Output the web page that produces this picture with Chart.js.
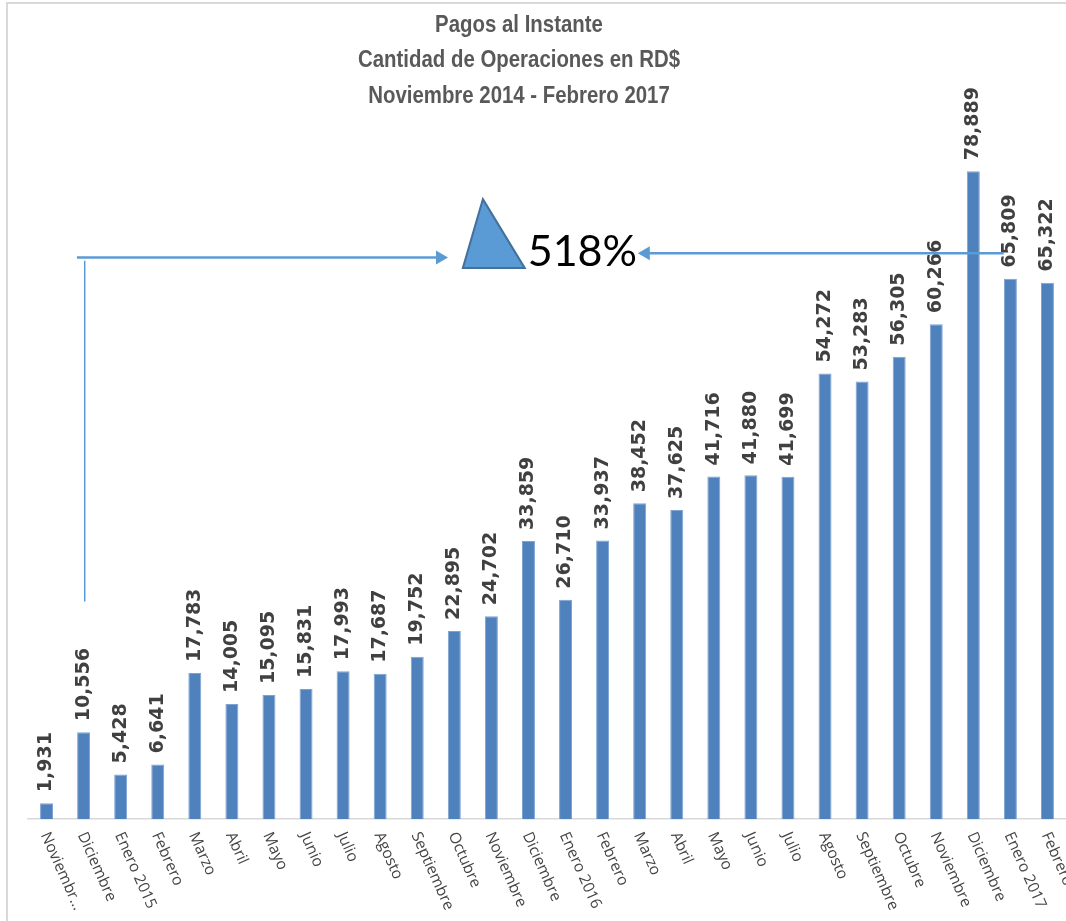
<!DOCTYPE html>
<html>
<head>
<meta charset="utf-8">
<script src="https://cdn.jsdelivr.net/npm/chart.js@4/dist/chart.umd.min.js"></script>
<style>
    html, body { margin: 0; padding: 0; background: #fff; }
    #wrap { width: 1066px; height: 921px; position: relative; }
</style>
</head>
<body>
<div id="wrap"><canvas id="pagosChart"></canvas></div>
<script>
// DATA ---------------------------------------------------------------------------
const months = ["Noviembr...", "Diciembre", "Enero 2015", "Febrero", "Marzo", "Abril", "Mayo", "Junio",
    "Julio", "Agosto", "Septiembre", "Octubre", "Noviembre", "Diciembre", "Enero 2016", "Febrero",
    "Marzo", "Abril", "Mayo", "Junio", "Julio", "Agosto", "Septiembre", "Octubre", "Noviembre",
    "Diciembre", "Enero 2017", "Febrero"];
const operaciones = [1931, 10556, 5428, 6641, 17783, 14005, 15095, 15831, 17993, 17687, 19752,
    22895, 24702, 33859, 26710, 33937, 38452, 37625, 41716, 41880, 41699, 54272, 53283, 56305,
    60266, 78889, 65809, 65322];
const titleLines = ["Pagos al Instante", "Cantidad de Operaciones en RD$", "Noviembre 2014 - Febrero 2017"];
const growthLabel = "518%";

const barColor = '#4F81BD';
const arrowColor = '#5B9BD5';

// FRAME + TITLE (narrow bold, like Arial Narrow) ---------------------------------
const framePlugin = {
    id: 'frame',
    beforeDraw(chart) {
        const ctx = chart.ctx;
        ctx.save();
        ctx.fillStyle = '#fff';
        ctx.fillRect(0, 0, chart.width, chart.height);
        ctx.strokeStyle = '#D9D9D9';
        ctx.lineWidth = 2;
        ctx.beginPath();
        ctx.moveTo(7, chart.height);
        ctx.lineTo(7, 3);
        ctx.lineTo(chart.width, 3);
        ctx.stroke();

        ctx.fillStyle = '#595959';
        ctx.font = 'bold 24px "Liberation Sans"';
        ctx.textAlign = 'center';
        ctx.textBaseline = 'middle';
        const cx = 519;
        titleLines.forEach((t, i) => {
            ctx.save();
            ctx.translate(cx, 25 + i * 35.5);
            ctx.scale(0.85, 1);
            ctx.fillText(t, 0, 0);
            ctx.restore();
        });
        ctx.restore();
    }
};

// VALUE LABELS + MONTH LABELS ----------------------------------------------------
const labelsPlugin = {
    id: 'barLabels',
    afterDatasetsDraw(chart) {
        const ctx = chart.ctx;
        const meta = chart.getDatasetMeta(0);
        const xScale = chart.scales.x;
        ctx.save();
        // values, rotated
        ctx.fillStyle = '#404040';
        ctx.font = 'bold 19px "DejaVu Sans"';
        ctx.textAlign = 'left';
        ctx.textBaseline = 'middle';
        meta.data.forEach((bar, i) => {
            ctx.save();
            ctx.translate(bar.x, bar.y - 11);
            ctx.rotate(-Math.PI / 2);
            ctx.fillText(operaciones[i].toLocaleString('en-US'), 0, 0);
            ctx.restore();
        });
        // months, slanted downwards
        ctx.fillStyle = '#454545';
        ctx.font = '15.5px "Open Sans"';
        months.forEach((m, i) => {
            ctx.save();
            ctx.translate(xScale.getPixelForValue(i) - 2, xScale.top + 14);
            ctx.rotate(66 * Math.PI / 180);
            ctx.fillText(m, 0, 0);
            ctx.restore();
        });
        ctx.restore();
    }
};

// ANNOTATION: arrows and triangle ------------------------------------------------
function arrowHead(ctx, x, y, dir) {
    ctx.beginPath();
    ctx.moveTo(x, y);
    ctx.lineTo(x - dir * 12, y - 7);
    ctx.lineTo(x - dir * 12, y + 7);
    ctx.closePath();
    ctx.fill();
}

const growthPlugin = {
    id: 'growth',
    afterDraw(chart) {
        const ctx = chart.ctx;
        const x = chart.scales.x, y = chart.scales.y;
        ctx.save();
        ctx.strokeStyle = arrowColor;
        ctx.fillStyle = arrowColor;

        // left bracket: up from Diciembre 2014, across to the triangle
        const lx = x.getPixelForValue(1.03);
        ctx.lineWidth = 1.5;
        ctx.beginPath();
        ctx.moveTo(lx, y.getPixelForValue(26500));
        ctx.lineTo(lx, y.getPixelForValue(68000));
        ctx.stroke();
        const ly = y.getPixelForValue(68400);
        const lEnd = x.getPixelForValue(10.83);
        ctx.lineWidth = 2.5;
        ctx.beginPath();
        ctx.moveTo(x.getPixelForValue(0.82), ly);
        ctx.lineTo(lEnd - 10, ly);
        ctx.stroke();
        arrowHead(ctx, lEnd, ly, 1);

        // right arrow: from Enero 2017 back to the label
        const ry = y.getPixelForValue(68900);
        const rEnd = x.getPixelForValue(15.95);
        ctx.beginPath();
        ctx.moveTo(x.getPixelForValue(25.82), ry);
        ctx.lineTo(rEnd + 10, ry);
        ctx.stroke();
        arrowHead(ctx, rEnd, ry, -1);

        // triangle
        ctx.beginPath();
        ctx.moveTo(x.getPixelForValue(11.77), y.getPixelForValue(75500));
        ctx.lineTo(x.getPixelForValue(12.9), y.getPixelForValue(67100));
        ctx.lineTo(x.getPixelForValue(11.23), y.getPixelForValue(67100));
        ctx.closePath();
        ctx.fillStyle = arrowColor;
        ctx.fill();
        ctx.strokeStyle = '#41719C';
        ctx.lineWidth = 2;
        ctx.stroke();

        // percentage
        ctx.fillStyle = '#000';
        ctx.font = '43px Lato';
        ctx.textAlign = 'left';
        ctx.textBaseline = 'alphabetic';
        ctx.fillText(growthLabel, x.getPixelForValue(12.98), y.getPixelForValue(67300));
        ctx.restore();
    }
};

// CHART --------------------------------------------------------------------------
const ctx = document.getElementById('pagosChart').getContext('2d');
new Chart(ctx, {
    type: 'bar',
    data: {
        labels: months,
        datasets: [{
            label: 'Operaciones',
            data: operaciones,
            backgroundColor: barColor,
            borderColor: '#7EA3D3',
            borderWidth: 1,
            barPercentage: 0.7,
            categoryPercentage: 0.5
        }]
    },
    options: {
        responsive: true,
        maintainAspectRatio: false,
        animation: false,
        layout: {
            padding: { left: 28, right: 0, top: 131, bottom: 102 }
        },
        plugins: {
            legend: { display: false },
            tooltip: { enabled: false },
            title: { display: false }
        },
        scales: {
            x: {
                grid: { display: false, drawTicks: false },
                border: { color: '#D9D9D9', width: 1.5 },
                ticks: { display: false }
            },
            y: {
                display: false,
                min: 0,
                max: 83800
            }
        }
    },
    plugins: [framePlugin, labelsPlugin, growthPlugin]
});
</script>
</body>
</html>
